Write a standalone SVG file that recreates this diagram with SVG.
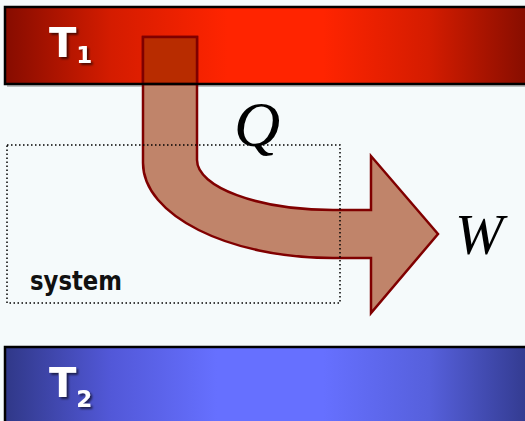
<svg xmlns="http://www.w3.org/2000/svg" width="525" height="421" viewBox="0 0 525 421">
<defs>
<linearGradient id="gRed" x1="0" y1="0" x2="1" y2="0">
<stop offset="0" stop-color="#860c00"/>
<stop offset="0.2" stop-color="#d41c00"/>
<stop offset="0.42" stop-color="#ff2400"/>
<stop offset="0.6" stop-color="#ff2400"/>
<stop offset="0.8" stop-color="#d41c00"/>
<stop offset="1" stop-color="#800c00"/>
</linearGradient>
<linearGradient id="gBlue" x1="0" y1="0" x2="1" y2="0">
<stop offset="0" stop-color="#303888"/>
<stop offset="0.2" stop-color="#5258d8"/>
<stop offset="0.4" stop-color="#6670ff"/>
<stop offset="0.6" stop-color="#6670ff"/>
<stop offset="0.8" stop-color="#5660dc"/>
<stop offset="1" stop-color="#30388a"/>
</linearGradient>
<filter id="sh" x="-20%" y="-20%" width="150%" height="150%">
<feDropShadow dx="2" dy="2" stdDeviation="1" flood-color="#000" flood-opacity="0.6"/>
</filter>
</defs>
<style>
.bar{stroke:#000;stroke-width:2.5}
.barsh{fill:#999;opacity:0.6}
.tl{font-family:"DejaVu Sans",sans-serif;font-weight:bold;fill:#fff}
.arrow{fill:#c0846a;stroke:#800000;stroke-width:2.5;stroke-linejoin:miter}
.sym{font-family:"Liberation Serif",serif;font-style:italic;fill:#000}
.box{fill:none;stroke:#000;stroke-width:1.5;stroke-dasharray:1.5 2.5}
</style>
<rect width="525" height="421" fill="#f5fafb"/>

<g id="T1">
<rect class="barsh" x="7" y="9" width="530" height="78"/>
<rect x="5" y="7" width="530" height="77" fill="url(#gRed)"/>
</g>

<g id="T2">
<rect class="barsh" x="7" y="349" width="530" height="80"/>
<rect class="bar" x="5" y="347" width="530" height="80" fill="url(#gBlue)"/>
<text class="tl" x="49" y="397" font-size="40" filter="url(#sh)">T<tspan font-size="23" dy="10">2</tspan></text>
</g>

<g id="connectors">
<path id="heat-work" class="arrow" d="M143,37 L197,37 L197,160 C197,187 258,210 333,210 L371,210 L371,156 L438,234 L371,313 L371,258 L333,258 C228,258 143,215 143,163 Z"/>
<rect x="143" y="37" width="54" height="47" fill="#b82c00" stroke="#800000" stroke-width="2.5"/>
</g>

<g id="T1-border">
<rect class="bar" x="5" y="7" width="530" height="77" fill="none"/>
<text class="tl" x="49" y="57" font-size="40" filter="url(#sh)">T<tspan font-size="23" dy="6">1</tspan></text>
</g>

<g id="system">
<rect class="box" x="7" y="145" width="333" height="158"/>
<text x="30" y="290" font-family="DejaVu Sans,sans-serif" font-weight="bold" font-size="26" textLength="92" lengthAdjust="spacingAndGlyphs" fill="#111">system</text>
</g>

<g id="labels">
<text class="sym" x="234" y="146" font-size="64">Q</text>
<text class="sym" x="455" y="254" font-size="58">W</text>
</g>
</svg>
